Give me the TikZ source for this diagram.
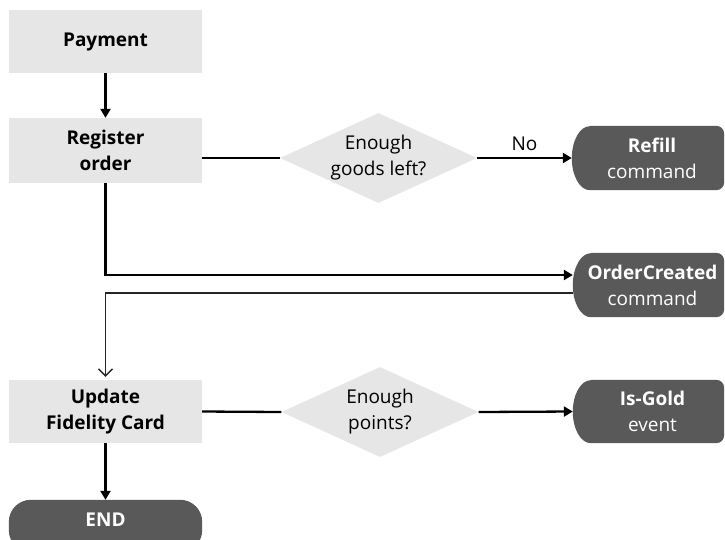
\documentclass[tikz,border=0pt]{standalone}
\usepackage{fontspec}
\setmainfont{Open Sans}
\usetikzlibrary{arrows.meta,shapes.geometric,backgrounds}

\definecolor{boxgray}{HTML}{E6E6E6}
\definecolor{termgray}{HTML}{595959}

% Dark terminal outline: elliptic left side, small rounded corners on the right.
% #1 node, #2 left x-radius, #3 right corner radius, #4 half height
\newcommand\termoutline[4]{%
  \fill[termgray] ([xshift=#2]#1.north west) -- ([xshift=-#3]#1.north east)
    arc[start angle=90,end angle=0,radius=#3]
    -- ([yshift=#3]#1.south east)
    arc[start angle=0,end angle=-90,radius=#3]
    -- ([xshift=#2]#1.south west)
    arc[start angle=270,end angle=90,x radius=#2,y radius=#4] -- cycle;}

\tikzset{
  txt/.style={font=\fontsize{19}{26}\selectfont, align=center},
  process/.style={txt, font=\fontsize{19}{26}\selectfont\bfseries,
    fill=boxgray, inner sep=0pt, minimum width=193pt},
  decision/.style={diamond, fill=boxgray, inner sep=0pt,
    minimum width=197pt, minimum height=90pt},
  dtext/.style={txt, text=black},
  terminal/.style={rectangle, inner sep=0pt, minimum width=151pt},
  ttext/.style={txt, text=white, xshift=4pt},
  flow/.style={line width=2.3pt, -{Triangle[length=9pt,width=10pt]}},
  link/.style={line width=2.3pt},
  back/.style={line width=1.4pt, draw=black!85,
    -{Straight Barb[length=7pt,width=14pt]}},
}

\begin{document}
\begin{tikzpicture}[x=1pt,y=-1pt]
\useasboundingbox (0,0) rectangle (725,539);

% process steps
\node[process, minimum height=63pt] (pay) at (105.5,41.5) {Payment};
\node[process, minimum height=65pt] (reg) at (105.5,150.5) {Register\\order};
\node[process, minimum height=63pt] (upd) at (105.5,411.5) {Update\\Fidelity Card};

% decisions
\node[decision, label={[dtext]center:{Enough\\goods left?}}] (d1) at (378.5,158) {};
\node[decision, label={[dtext]center:{Enough\\points?}}] (d2) at (380,412) {};

% terminals
\node[terminal, minimum width=152pt, minimum height=64pt,
  label={[ttext]center:{\bfseries Refill\\command}}] (rf) at (648,158) {};
\node[terminal, minimum height=64pt,
  label={[ttext]center:{\bfseries OrderCreated\\command}}] (oc) at (648.5,285) {};
\node[terminal, minimum height=63pt,
  label={[ttext]center:{\bfseries Is-Gold\\event}}] (ig) at (648.5,411.5) {};
\node[rectangle, inner sep=0pt, minimum width=193pt, minimum height=52pt,
  label={[txt, text=white, font=\fontsize{19}{26}\selectfont\bfseries, yshift=6pt]center:END}]
  (end) at (105.5,526) {};

\begin{scope}[on background layer]
  \termoutline{rf}{18pt}{8pt}{32pt}
  \termoutline{oc}{18pt}{8pt}{32pt}
  \termoutline{ig}{18pt}{8pt}{31.5pt}
  \fill[termgray, rounded corners=22pt] (end.south west) rectangle (end.north east);
\end{scope}

% connectors
\draw[flow] (pay) -- (reg);
\draw[link] (reg.east |- d1) -- (d1.west);
\draw[flow] (d1.east) -- node[txt, above=3pt] {No} (rf.west);
\draw[flow] (reg.south) |- ([yshift=10pt]oc.west);
\draw[back] ([yshift=-8pt]oc.west) -| ([yshift=3pt]upd.north);
\draw[link] (upd.east) -- (d2.west);
\draw[flow] (d2.east) -- (ig.west);
\draw[flow] (upd) -- (end);
\end{tikzpicture}
\end{document}
